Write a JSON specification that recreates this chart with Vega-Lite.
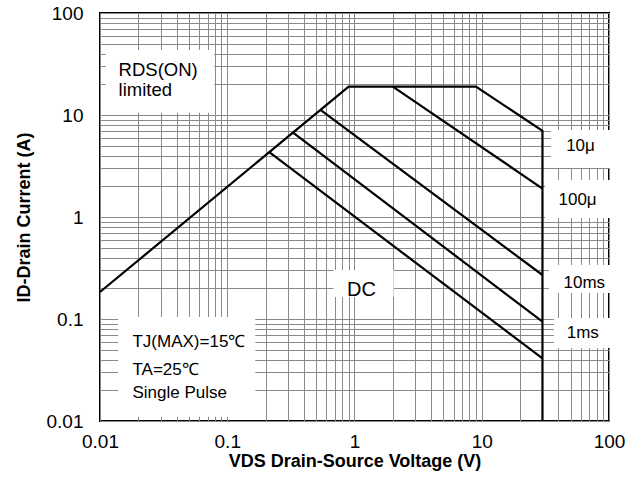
{
  "$schema": "https://vega.github.io/schema/vega-lite/v6.json",
  "width": 509,
  "height": 408,
  "autosize": {"type": "none"},
  "padding": {"left": 100, "top": 13, "right": 26, "bottom": 64},
  "background": "white",
  "config": {
    "font": "Liberation Sans",
    "view": {"stroke": "#000000", "strokeWidth": 2}
  },
  "datasets": {
    "curves": [
      {"curve": "boundary", "x": 0.01, "y": 0.184, "o": 1},
      {"curve": "boundary", "x": 0.9, "y": 19, "o": 2},
      {"curve": "boundary", "x": 9, "y": 19, "o": 3},
      {"curve": "boundary", "x": 30, "y": 7, "o": 4},
      {"curve": "boundary", "x": 30, "y": 0.01, "o": 5},
      {"curve": "100us", "x": 2, "y": 19, "o": 1},
      {"curve": "100us", "x": 30, "y": 1.9, "o": 2},
      {"curve": "10ms", "x": 0.54, "y": 11.2, "o": 1},
      {"curve": "10ms", "x": 30, "y": 0.27, "o": 2},
      {"curve": "1ms", "x": 0.329, "y": 6.73, "o": 1},
      {"curve": "1ms", "x": 30, "y": 0.094, "o": 2},
      {"curve": "DC", "x": 0.214, "y": 4.32, "o": 1},
      {"curve": "DC", "x": 30, "y": 0.041, "o": 2}
    ],
    "boxes": [
      {"box": "rds", "x": 0.0111, "x2": 0.079, "y": 10.5, "y2": 43.4},
      {"box": "tj", "x": 0.0139, "x2": 0.166, "y": 0.011, "y2": 0.1046},
      {"box": "dc", "x": 0.684, "x2": 2.03, "y": 0.164, "y2": 0.302},
      {"box": "10u", "x": 34.9, "x2": 107, "y": 3.02, "y2": 7.13},
      {"box": "100u", "x": 31.5, "x2": 107, "y": 0.977, "y2": 2.31},
      {"box": "10ms", "x": 33.7, "x2": 107, "y": 0.18, "y2": 0.338},
      {"box": "1ms", "x": 36.9, "x2": 107, "y": 0.052, "y2": 0.102}
    ],
    "labels": [
      {"group": "rds", "text": "RDS(ON)", "x": 0.014, "y": 24.1},
      {"group": "rds", "text": "limited", "x": 0.014, "y": 15.4},
      {"group": "tj", "text": "TJ(MAX)=15℃", "x": 0.018, "y": 0.0535},
      {"group": "tj", "text": "TA=25℃", "x": 0.018, "y": 0.0283},
      {"group": "tj", "text": "Single Pulse", "x": 0.018, "y": 0.0167},
      {"group": "right", "text": "10μ", "x": 59.7, "y": 4.44},
      {"group": "right", "text": "100μ", "x": 56.6, "y": 1.312},
      {"group": "right", "text": "10ms", "x": 63.9, "y": 0.203},
      {"group": "right", "text": "1ms", "x": 62.2, "y": 0.0647},
      {"group": "dc", "text": "DC", "x": 1.135, "y": 0.169}
    ]
  },
  "encoding": {
    "x": {
      "field": "x",
      "type": "quantitative",
      "scale": {"type": "log", "domain": [0.01, 100], "nice": false},
      "axis": {
        "values": [0.01, 0.02, 0.03, 0.04, 0.05, 0.06, 0.07, 0.08, 0.09, 0.1, 0.2, 0.3, 0.4, 0.5, 0.6, 0.7, 0.8, 0.9, 1, 2, 3, 4, 5, 6, 7, 8, 9, 10, 20, 30, 40, 50, 60, 70, 80, 90, 100],
        "format": "~g",
        "labelExpr": "abs(log(datum.value)/LN10 - round(log(datum.value)/LN10)) < 0.000001 ? datum.label : ''",
        "labelOverlap": false,
        "labelFlush": false,
        "grid": true,
        "gridColor": "#8a8a8a",
        "gridWidth": 1,
        "ticks": false,
        "tickSize": 0,
        "domain": false,
        "labelFont": "Liberation Sans",
        "labelFontSize": 19,
        "labelColor": "#000000",
        "labelPadding": 11,
        "title": "VDS Drain-Source Voltage (V)",
        "titleFont": "Liberation Sans",
        "titleFontSize": 18,
        "titleFontWeight": "bold",
        "titleColor": "#000000",
        "titlePadding": 1
      }
    },
    "y": {
      "field": "y",
      "type": "quantitative",
      "scale": {"type": "log", "domain": [0.01, 100], "nice": false},
      "axis": {
        "values": [0.01, 0.02, 0.03, 0.04, 0.05, 0.06, 0.07, 0.08, 0.09, 0.1, 0.2, 0.3, 0.4, 0.5, 0.6, 0.7, 0.8, 0.9, 1, 2, 3, 4, 5, 6, 7, 8, 9, 10, 20, 30, 40, 50, 60, 70, 80, 90, 100],
        "format": "~g",
        "labelExpr": "abs(log(datum.value)/LN10 - round(log(datum.value)/LN10)) < 0.000001 ? datum.label : ''",
        "labelOverlap": false,
        "labelFlush": false,
        "grid": true,
        "gridColor": "#8a8a8a",
        "gridWidth": 1,
        "ticks": false,
        "tickSize": 0,
        "domain": false,
        "labelFont": "Liberation Sans",
        "labelFontSize": 19,
        "labelColor": "#000000",
        "labelPadding": 17,
        "title": "ID-Drain Current (A)",
        "titleFont": "Liberation Sans",
        "titleFontSize": 18,
        "titleFontWeight": "bold",
        "titleColor": "#000000",
        "titlePadding": 13
      }
    }
  },
  "layer": [
    {
      "data": {"name": "boxes"},
      "mark": {"type": "rect", "fill": "white", "stroke": null},
      "encoding": {
        "x2": {"field": "x2"},
        "y2": {"field": "y2"}
      }
    },
    {
      "data": {"name": "curves"},
      "mark": {"type": "line", "color": "black", "strokeWidth": 2.2, "strokeJoin": "miter"},
      "encoding": {
        "detail": {"field": "curve", "type": "nominal"},
        "order": {"field": "o", "type": "quantitative"}
      }
    },
    {
      "data": {"name": "labels"},
      "transform": [{"filter": "datum.group === 'rds'"}],
      "mark": {"type": "text", "align": "left", "baseline": "alphabetic", "fontSize": 18.5, "font": "Liberation Sans", "color": "black"},
      "encoding": {"text": {"field": "text"}}
    },
    {
      "data": {"name": "labels"},
      "transform": [{"filter": "datum.group === 'tj'"}],
      "mark": {"type": "text", "align": "left", "baseline": "alphabetic", "fontSize": 17, "font": "Liberation Sans", "color": "black"},
      "encoding": {"text": {"field": "text"}}
    },
    {
      "data": {"name": "labels"},
      "transform": [{"filter": "datum.group === 'right'"}],
      "mark": {"type": "text", "align": "center", "baseline": "alphabetic", "fontSize": 17, "font": "Liberation Sans", "color": "black"},
      "encoding": {"text": {"field": "text"}}
    },
    {
      "data": {"name": "labels"},
      "transform": [{"filter": "datum.group === 'dc'"}],
      "mark": {"type": "text", "align": "center", "baseline": "alphabetic", "fontSize": 20, "font": "Liberation Sans", "color": "black"},
      "encoding": {"text": {"field": "text"}}
    }
  ]
}
